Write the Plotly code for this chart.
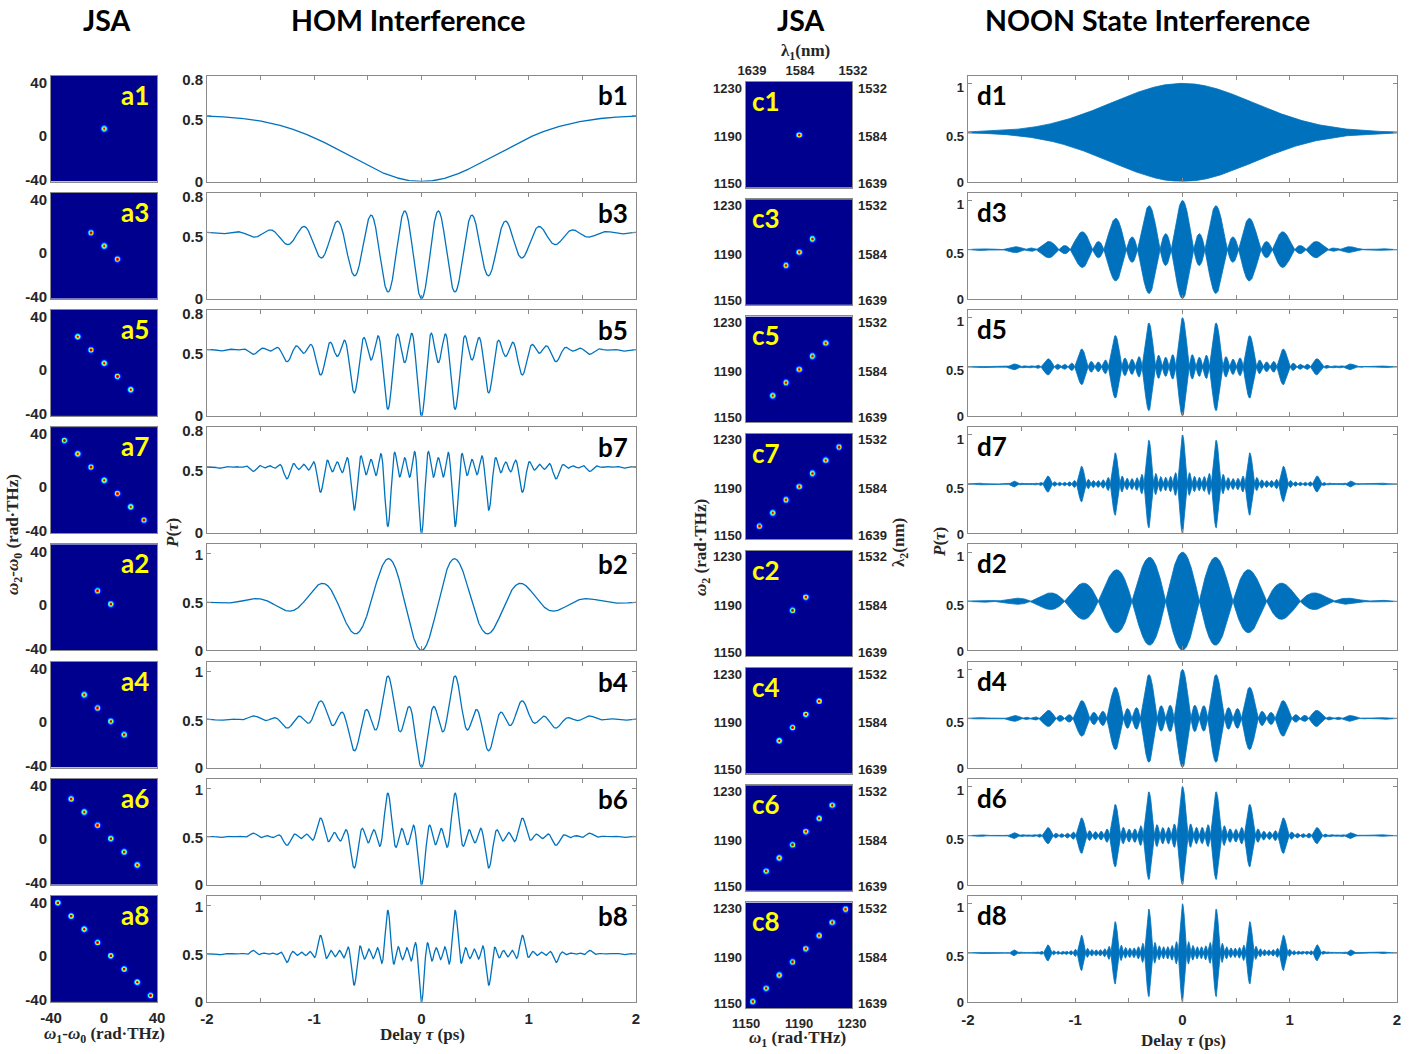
import numpy as np
import plotly.graph_objects as go

W, H = 1412, 1054

# ---------------- data ----------------
row_ids = ["1", "3", "5", "7", "2", "4", "6", "8"]
# column a JSA: spectral mode centres along omega1-omega0 (rad·THz); anti-diagonal => omega2-omega0 = -(omega1-omega0)
a_modes = [
    [0],
    [-10, 0, 10],
    [-20, -10, 0, 10, 20],
    [-30, -20, -10, 0, 10, 20, 30],
    [-5, 5],
    [-15, -5, 5, 15],
    [-25, -15, -5, 5, 15, 25],
    [-35, -25, -15, -5, 5, 15, 25, 35],
]
# column c JSA: mode centres on the diagonal omega1 = omega2 (rad·THz)
c_modes = [
    [1190],
    [1180, 1190, 1200],
    [1170, 1180, 1190, 1200, 1210],
    [1160, 1170, 1180, 1190, 1200, 1210, 1220],
    [1185, 1195],
    [1175, 1185, 1195, 1205],
    [1165, 1175, 1185, 1195, 1205, 1215],
    [1155, 1165, 1175, 1185, 1195, 1205, 1215, 1225],
]
c_center = 1190
mode_width = 1.3          # rad·THz, spot width in the JSA maps
hom_coherence_ps = 0.68   # HOM dip width (ps)
noon_coherence_ps = 0.66  # NOON envelope width (ps)

a_ticks = [-40, 0, 40]
a_ticktext = ["-40", "0", "40"]
c_ticks = [1150, 1190, 1230]
c_ticktext = ["1150", "1190", "1230"]
lambda_ticktext = ["1639", "1584", "1532"]
tau_tickvals = [-2, -1, 0, 1, 2]
tau_ticktext = ["-2", "-1", "0", "1", "2"]
tau_minor_step = 0.5
b_yticks_odd = [0, 0.5, 0.8]
b_yticks_even = [0, 0.5, 1]
d_yticks = [0, 0.5, 1]

# ---------------- curves from the JSA modes ----------------
tau = np.linspace(-2, 2, 4001)


def hom(modes):
    m = np.array(modes, float)
    env = np.exp(-tau ** 2 / (2 * hom_coherence_ps ** 2))
    return 0.5 - 0.5 * env * np.cos(2 * np.outer(m, tau)).mean(axis=0)


def noon(modes):
    m = np.array(modes, float) - c_center
    env = np.exp(-tau ** 2 / (2 * noon_coherence_ps ** 2))
    amp = env * np.abs(np.exp(2j * np.outer(m, tau)).mean(axis=0))
    return 0.5 + 0.5 * amp, 0.5 - 0.5 * amp


def jsa(xs, ys, gx, gy):
    X, Y = np.meshgrid(gx, gy)
    z = np.zeros_like(X)
    for x0, y0 in zip(xs, ys):
        z += np.exp(-((X - x0) ** 2 + (Y - y0) ** 2) / (2 * mode_width ** 2))
    return z


ga = np.linspace(-40, 40, 241)
gc = np.linspace(1150, 1230, 241)

jet = [[0.0, "rgb(0,0,143)"], [0.125, "rgb(0,0,255)"], [0.375, "rgb(0,255,255)"],
       [0.625, "rgb(255,255,0)"], [0.875, "rgb(255,0,0)"], [1.0, "rgb(128,0,0)"]]
BLUE = "#0072BD"
AXC = "#8a8a8a"
TXT = "#262626"

# ---------------- geometry (px) ----------------
cols = {"a": (51, 157), "b": (207, 636), "c": (746, 852), "d": (968, 1397)}
row_top0, row_pitch, row_h = 75.5, 117.2, 106.0
c_top0, c_h = 82.0, 105.5


def xd(x0, x1):
    return [x0 / W, x1 / W]


def yd(top, bottom):
    return [1 - bottom / H, 1 - top / H]


def px(x):
    return x / W


def py(y):
    return 1 - y / H


tickfont = dict(family="Liberation Sans", size=15, color=TXT, weight="bold")
tickfont_c = dict(family="Liberation Sans", size=13, color=TXT, weight="bold")

fig = go.Figure()
layout = dict(width=W, height=H, margin=dict(l=0, r=0, t=0, b=0, autoexpand=False),
              paper_bgcolor="white", plot_bgcolor="white", showlegend=False)
ann = []
next_axis = [42]


def base_axis(**kw):
    d = dict(showgrid=False, zeroline=False, showline=True, mirror=True,
             linecolor=AXC, linewidth=1, automargin=False)
    d.update(kw)
    return d


def ylabels(xa, ya, rng, side, vals, texts, down, font, standoff=3):
    """Tick-label-only overlay y axis on panel (xa, ya); labels moved `down` px."""
    n = next_axis[0]
    next_axis[0] += 1
    layout[f"yaxis{n}"] = dict(overlaying=ya, anchor=xa, side=side, range=rng, tickvals=vals,
                               ticktext=texts, ticklabelshift=int(round(down)),
                               ticklabelstandoff=int(standoff),
                               showgrid=False, zeroline=False, showline=False, ticks="",
                               tickfont=font, automargin=False)
    fig.add_trace(go.Scatter(x=[None], y=[None], mode="markers", hoverinfo="skip",
                             xaxis=xa, yaxis=f"y{n}"))


def xlabels(xa, ya, rng, side, vals, texts, right, font, standoff=3):
    n = next_axis[0]
    next_axis[0] += 1
    layout[f"xaxis{n}"] = dict(overlaying=xa, anchor=ya, side=side, range=rng, tickvals=vals,
                               ticktext=texts, ticklabelshift=int(round(right)),
                               ticklabelstandoff=int(standoff),
                               showgrid=False, zeroline=False, showline=False, ticks="",
                               tickfont=font, automargin=False)
    fig.add_trace(go.Scatter(x=[None], y=[None], mode="markers", hoverinfo="skip",
                             xaxis=f"x{n}", yaxis=ya))


tau_axis = dict(range=[-2, 2], tickvals=tau_tickvals, ticktext=tau_ticktext, ticks="inside",
                ticklen=4, tickcolor=AXC, mirror="ticks",
                minor=dict(dtick=tau_minor_step, tick0=0, ticks="inside", ticklen=4,
                           tickcolor=AXC, showgrid=False))

for r in range(8):
    last = r == 7
    top = row_top0 + r * row_pitch
    bot = top + row_h
    ctop = c_top0 + r * row_pitch
    cbot = ctop + c_h
    ia, ib, ic, idd = r + 1, 9 + r, 17 + r, 25 + r

    # ---- column a ----
    xa = a_modes[r]
    ya = [-v for v in a_modes[r]]
    fig.add_trace(go.Heatmap(x=ga, y=ga, z=jsa(xa, ya, ga, ga), colorscale=jet, zmin=0, zmax=1,
                             zsmooth="best", showscale=False, hoverinfo="skip",
                             xaxis=f"x{ia}", yaxis=f"y{ia}"))
    layout[f"xaxis{ia}"] = base_axis(domain=xd(*cols["a"]), anchor=f"y{ia}", range=[-40, 40],
                                     tickvals=a_ticks, ticktext=a_ticktext, ticks="",
                                     showticklabels=last, tickfont=tickfont, ticklabelstandoff=2)
    layout[f"yaxis{ia}"] = base_axis(domain=yd(top, bot), anchor=f"x{ia}", range=[-40, 40],
                                     tickvals=a_ticks, ticks="", showticklabels=False)
    ylabels(f"x{ia}", f"y{ia}", [-40, 40], "left", a_ticks[1:], a_ticktext[1:], 7, tickfont)
    ylabels(f"x{ia}", f"y{ia}", [-40, 40], "left", a_ticks[:1], a_ticktext[:1], -2, tickfont)
    ann.append(dict(text=f"<b>a{row_ids[r]}</b>", x=px(cols["a"][1] - 6), y=py(top + 1),
                    xref="paper", yref="paper", xanchor="right", yanchor="top", showarrow=False,
                    font=dict(family="Lato", size=26, color="#FFFF00")))

    # ---- column b ----
    odd = r < 4
    byt = b_yticks_odd if odd else b_yticks_even
    brng = [0, 0.8] if odd else [0, 1.1]
    fig.add_trace(go.Scatter(x=tau, y=hom(a_modes[r]), mode="lines",
                             line=dict(color=BLUE, width=1.3), hoverinfo="skip",
                             xaxis=f"x{ib}", yaxis=f"y{ib}"))
    layout[f"xaxis{ib}"] = base_axis(domain=xd(*cols["b"]), anchor=f"y{ib}",
                                     showticklabels=last, tickfont=tickfont,
                                     ticklabelstandoff=3, **tau_axis)
    layout[f"yaxis{ib}"] = base_axis(domain=yd(top, bot), anchor=f"x{ib}", range=brng,
                                     tickvals=byt, ticks="inside", ticklen=4, tickcolor=AXC,
                                     mirror="ticks", showticklabels=False)
    ylabels(f"x{ib}", f"y{ib}", brng, "left", byt[1:], [str(v) for v in byt[1:]],
            4.5 if odd else 1.0, tickfont)
    ylabels(f"x{ib}", f"y{ib}", brng, "left", byt[:1], [str(v) for v in byt[:1]], 0, tickfont)
    ann.append(dict(text=f"<b>b{row_ids[r]}</b>", x=px(cols["b"][1] - 6), y=py(top + 2),
                    xref="paper", yref="paper", xanchor="right", yanchor="top", showarrow=False,
                    font=dict(family="Lato", size=26, color="black")))

    # ---- column c ----
    crng = [1150, 1230]
    fig.add_trace(go.Heatmap(x=gc, y=gc, z=jsa(c_modes[r], c_modes[r], gc, gc), colorscale=jet,
                             zmin=0, zmax=1, zsmooth="best", showscale=False, hoverinfo="skip",
                             xaxis=f"x{ic}", yaxis=f"y{ic}"))
    layout[f"xaxis{ic}"] = base_axis(domain=xd(*cols["c"]), anchor=f"y{ic}", range=crng,
                                     tickvals=c_ticks, ticktext=c_ticktext, ticks="",
                                     showticklabels=last, tickfont=tickfont_c, ticklabelstandoff=3)
    layout[f"yaxis{ic}"] = base_axis(domain=yd(ctop, cbot), anchor=f"x{ic}", range=crng,
                                     tickvals=c_ticks, ticks="", showticklabels=False)
    for k, sh in zip(range(3), [-3.5, 2.0, 6.0]):
        ylabels(f"x{ic}", f"y{ic}", crng, "left", [c_ticks[k]], [c_ticktext[k]], sh, tickfont_c)
        ylabels(f"x{ic}", f"y{ic}", crng, "right", [c_ticks[k]], [lambda_ticktext[k]], sh,
                tickfont_c, standoff=5)
    ann.append(dict(text=f"<b>c{row_ids[r]}</b>", x=px(cols["c"][0] + 4), y=py(ctop + 1),
                    xref="paper", yref="paper", xanchor="left", yanchor="top", showarrow=False,
                    font=dict(family="Lato", size=26, color="#FFFF00")))

    # ---- column d ----
    up, lo = noon(c_modes[r])
    drng = [0, 1.08]
    fig.add_trace(go.Scatter(x=np.concatenate([tau, tau[::-1]]), y=np.concatenate([up, lo[::-1]]),
                             mode="lines", fill="toself", fillcolor=BLUE,
                             line=dict(color=BLUE, width=0.8), hoverinfo="skip",
                             xaxis=f"x{idd}", yaxis=f"y{idd}"))
    layout[f"xaxis{idd}"] = base_axis(domain=xd(*cols["d"]), anchor=f"y{idd}",
                                      showticklabels=last, tickfont=tickfont,
                                      ticklabelstandoff=4, **tau_axis)
    layout[f"yaxis{idd}"] = base_axis(domain=yd(top, bot), anchor=f"x{idd}", range=drng,
                                      tickvals=d_yticks, ticks="inside", ticklen=4, tickcolor=AXC,
                                      mirror="ticks", showticklabels=False)
    ylabels(f"x{idd}", f"y{idd}", drng, "left", d_yticks[1:], [str(v) for v in d_yticks[1:]],
            4.0, tickfont_c)
    ylabels(f"x{idd}", f"y{idd}", drng, "left", d_yticks[:1], [str(v) for v in d_yticks[:1]],
            1.0, tickfont_c)
    ann.append(dict(text=f"<b>d{row_ids[r]}</b>", x=px(cols["d"][0] + 7), y=py(top + 1),
                    xref="paper", yref="paper", xanchor="left", yanchor="top", showarrow=False,
                    font=dict(family="Lato", size=26, color="black")))

# top lambda1 labels on c1
xlabels("x17", "y17", [1150, 1230], "top", c_ticks[:1], lambda_ticktext[:1], 6, tickfont_c)
xlabels("x17", "y17", [1150, 1230], "top", c_ticks[1:], lambda_ticktext[1:], 1, tickfont_c)

# ---------------- titles ----------------
hfont = dict(family="Lato", size=28.5, color="black")
for text, x in [("JSA", 106), ("HOM Interference", 408), ("JSA", 800),
                ("NOON State Interference", 1147)]:
    ann.append(dict(text=f"<b>{text}</b>", x=px(x), y=py(20), xref="paper", yref="paper",
                    xanchor="center", yanchor="middle", showarrow=False, font=hfont))

sfont = dict(family="Liberation Serif", size=17, color=TXT)
titles = [
    ("<b><i>ω</i><sub>2</sub>-<i>ω</i><sub>0</sub> (rad·THz)</b>", 14, 535, -90),
    ("<b><i>ω</i><sub>1</sub>-<i>ω</i><sub>0</sub> (rad·THz)</b>", 104, 1035, 0),
    ("<b><i>P</i>(<i>τ</i>)</b>", 172, 533, -90),
    ("<b>Delay <i>τ</i> (ps)</b>", 422, 1034, 0),
    ("<b><i>ω</i><sub>2</sub> (rad·THz)</b>", 702, 548, -90),
    ("<b>λ<sub>2</sub>(nm)</b>", 900, 543, -90),
    ("<b>λ<sub>1</sub>(nm)</b>", 805, 52, 0),
    ("<b><i>ω</i><sub>1</sub> (rad·THz)</b>", 797, 1039, 0),
    ("<b><i>P</i>(<i>τ</i>)</b>", 939, 542, -90),
    ("<b>Delay <i>τ</i> (ps)</b>", 1183, 1040, 0),
]
for text, x, y, ang in titles:
    ann.append(dict(text=text, x=px(x), y=py(y), xref="paper", yref="paper", xanchor="center",
                    yanchor="middle", showarrow=False, textangle=ang, font=sfont))

layout["annotations"] = ann
fig.update_layout(**layout)

post = ("var gd=document.getElementById('{plot_id}');"
        "document.documentElement.style.margin='0';document.body.style.margin='0';"
        "document.documentElement.style.overflow='hidden';document.body.style.overflow='hidden';"
        "gd.style.position='fixed';gd.style.left='0px';gd.style.top='0px';")
fig.write_html("out.html", config={"displayModeBar": False, "responsive": False}, post_script=post)
